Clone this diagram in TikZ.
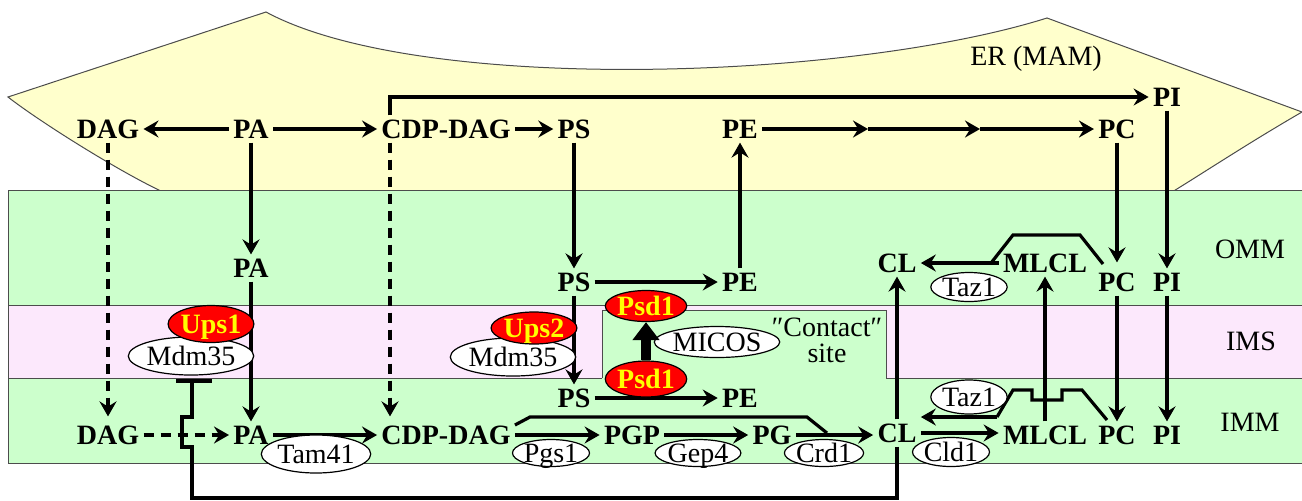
\documentclass[tikz,border=0pt]{standalone}
\usepackage{fontspec}
\setmainfont{Liberation Serif}
\usetikzlibrary{arrows.meta,calc,shapes.geometric}
\definecolor{erY}{HTML}{FFFFCC}
\definecolor{memG}{HTML}{CCFFCC}
\definecolor{imsP}{HTML}{FCE8FC}
\definecolor{enzR}{HTML}{FF0000}
\definecolor{enzT}{HTML}{FFFF00}
\begin{document}
\begin{tikzpicture}[x=0.5pt,y=-0.5pt,
  font=\fontsize{14}{16.8}\selectfont,
  >={Stealth[length=7.5pt,width=8.5pt,inset=2.6pt]},
  lip/.style={font=\fontsize{14}{16.8}\selectfont\bfseries, inner sep=2pt, text height=9.2pt, text depth=0pt},
  lbl/.style={inner sep=0pt},
  arr/.style={->, line width=1.6pt},
  dsh/.style={->, line width=1.6pt, dash pattern=on 5pt off 3.5pt},
  ln/.style={line width=1.6pt},
  enz/.style={ellipse, draw, line width=0.6pt, fill=white, inner sep=0pt, text height=9.2pt, text depth=0pt},
  renz/.style={enz, fill=enzR, text=enzT, font=\fontsize{14}{16.8}\selectfont\bfseries},
  band/.style={draw=black!70, line width=0.5pt}
]
\useasboundingbox (0,0) rectangle (1302,500);

% ER (MAM)
\filldraw[fill=erY, band] (8,97) -- (266,12) .. controls (420,95) and (850,80) .. (1047,18)
  -- (1302,112) .. controls (1250,142) and (1200,175) .. (1172,192) -- (163,192)
  .. controls (120,172) and (40,122) .. cycle;
% membranes
\filldraw[fill=memG, band] (8,190) rectangle (1306,305);
\filldraw[fill=imsP, band] (8,305) rectangle (1306,378);
\filldraw[fill=memG, band] (8,378) rectangle (1306,463);
\fill[memG] (602,310) rectangle (886,379.5);
\draw[band] (602,378) -- (602,310) -- (886,310) -- (886,378);

% compartment labels
\node[lbl] (erlab) at (1036,59) {ER (MAM)};
\node[lbl] (omm) at (1250,249) {OMM};
\node[lbl] (ims) at (1251,341) {IMS};
\node[lbl] (imm) at (1250,422) {IMM};
\node[lbl] (contact) at (827,327) {″Contact″};
\node[lbl] (site) at (827,353) {site};

% ER lipids
\node[lip] (DAGer) at (108,129) {DAG};
\node[lip] (PAer) at (251,129) {PA};
\node[lip] (CDPer) at (446,129) {CDP-DAG};
\node[lip] (PSer) at (574,129) {PS};
\node[lip] (PEer) at (740,129) {PE};
\node[lip] (PCer) at (1117,129) {PC};
\node[lip] (PIer) at (1167,97) {PI};
\coordinate (m1) at (868,129);
\coordinate (m2) at (980,129);
\coordinate (cdpx) at (390,0);

% OMM lipids
\node[lip] (PAomm) at (251,268) {PA};
\node[lip] (PSomm) at (574,282) {PS};
\node[lip] (PEomm) at (740,282) {PE};
\node[lip] (CLomm) at (897,263) {CL};
\node[lip] (MLCLomm) at (1045,263) {MLCL};
\node[lip] (PComm) at (1117,282) {PC};
\node[lip] (PIomm) at (1167,282) {PI};

% IMM lipids
\node[lip] (DAGimm) at (108,435) {DAG};
\node[lip] (PAimm) at (251,435) {PA};
\node[lip] (CDPimm) at (446,435) {CDP-DAG};
\node[lip] (PSimm) at (574,398) {PS};
\node[lip] (PEimm) at (740,398) {PE};
\node[lip] (PGP) at (632,435) {PGP};
\node[lip] (PG) at (772,435) {PG};
\node[lip] (CLimm) at (897,433) {CL};
\node[lip] (MLCLimm) at (1045,435) {MLCL};
\node[lip] (PCimm) at (1117,435) {PC};
\node[lip] (PIimm) at (1167,435) {PI};

% ER reactions
\draw[arr] (PAer.west) -- (DAGer.east);
\draw[arr] (PAer.east) -- (CDPer.west);
\draw[arr] (CDPer.east) -- (PSer.west);
\draw[arr] (PEer.east) -- (m1);
\draw[arr] (m1) -- (m2);
\draw[arr] (m2) -- (PCer.west);
\draw[arr] (cdpx |- CDPer.north) |- (PIer.west);

% transport ER -> mito
\draw[dsh, shorten >=2.5pt] (DAGer.south) -- (DAGimm.north);
\draw[dsh, shorten >=2.5pt] (cdpx |- CDPer.south) -- (cdpx |- CDPimm.north);
\draw[arr] (PAer.south) -- (PAomm.north);
\draw[arr] (PAomm.south) -- (PAimm.north);
\draw[arr] (PSer.south) -- (PSomm.north);
\draw[arr] (PSomm.south) -- (PSimm.north);
\draw[arr] (PSomm.east) -- (PEomm.west);
\draw[arr] (PSimm.east) -- (PEimm.west);
\draw[arr] (PEomm.north) -- (PEer.south);
\draw[arr, shorten >=3pt] (PCer.south) -- (PComm.north);
\draw[arr] (PComm.south) -- (PCimm.north);
\draw[arr] (PIer.south) -- (PIomm.north);
\draw[arr] (PIomm.south) -- (PIimm.north);

% IMM reactions
\draw[dsh] (DAGimm.east) -- (PAimm.west);
\draw[arr] (PAimm.east) -- (CDPimm.west);
\draw[arr] (CDPimm.east) -- (PGP.west);
\draw[arr] (PGP.east) -- (PG.west);
\draw[arr] (PG.east) -- (PG.east -| CLimm.west);
\draw[ln] ($(CDPimm.east)+(0,-10)$) -- (530,417) -- (807,417) -- (827,433);
\draw[arr] (CLimm.north) -- (CLomm.south);
\draw[arr] (CLimm.east) -- (CLimm.east -| MLCLimm.west);
\draw[arr] (MLCLimm.north) -- (MLCLomm.south);

% Taz1 (OMM)
\draw[arr] (MLCLomm.west) -- (CLomm.east);
\draw[ln] (1103,264) -- (1080,235) -- (1013,235) -- (991,263);
% Taz1 (IMM)
\coordinate (tz) at (997,417);
\draw[ln] (1107,420) -- (1082,390) -- (1062,390) -- (1062,400) -- (1032,400) -- (1032,390) -- (1013,390) -- (tz);
\draw[arr] (tz) -- (tz -| CLimm.east);

% inhibition by CL
\coordinate (tbar) at (192,381);
\draw[ln] (CLimm.south) -- (897,498) -- (192,498) -- (192,447) -- (182,447) -- (182,417) -- (192,417) -- (tbar);
\draw[ln] ($(tbar)+(-16,0)$) -- ($(tbar)+(20,0)$);

% enzymes
\node[enz, minimum width=58.5pt, minimum height=19pt] (Mdm35a) at (191,356) {Mdm35};
\node[renz, minimum width=38pt, minimum height=18.5pt] (Ups1) at (211,324) {Ups1};
\node[enz, minimum width=59.5pt, minimum height=19pt] (Mdm35b) at (513,357) {Mdm35};
\node[renz, minimum width=37.5pt, minimum height=16pt] (Ups2) at (534,328) {Ups2};
\node[enz, minimum width=59.5pt, minimum height=15.5pt] (MICOS) at (717,342) {MICOS};
\node[renz, minimum width=37.5pt, minimum height=15.5pt] (Psd1a) at (646,306) {Psd1};
\node[renz, minimum width=37pt, minimum height=18pt] (Psd1b) at (646,379) {Psd1};
\draw[line width=5pt, -{Triangle[length=9pt,width=13pt]}] (Psd1b.north) -- (Psd1a.south);
\node[enz, minimum width=47.5pt, minimum height=19pt] (Tam41) at (316,454) {Tam41};
\node[enz, minimum width=36pt, minimum height=13.5pt] (Pgs1) at (551,453) {Pgs1};
\node[enz, minimum width=36.5pt, minimum height=13.5pt] (Gep4) at (698,453) {Gep4};
\node[enz, minimum width=36pt, minimum height=13.5pt] (Crd1) at (824,453) {Crd1};
\node[enz, minimum width=34.5pt, minimum height=14.5pt] (Taz1a) at (969,287) {Taz1};
\node[enz, minimum width=34.5pt, minimum height=17pt] (Taz1b) at (969,397) {Taz1};
\node[enz, minimum width=34.5pt, minimum height=14.5pt] (Cld1) at (951,452) {Cld1};
\end{tikzpicture}
\end{document}
